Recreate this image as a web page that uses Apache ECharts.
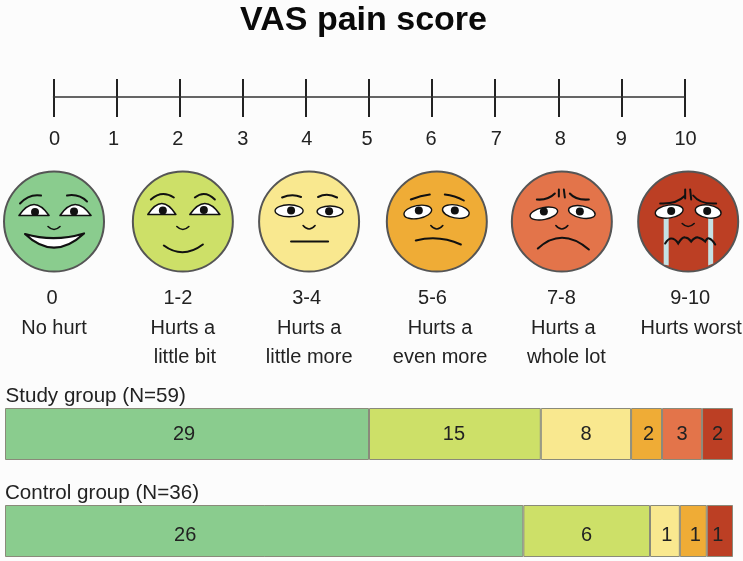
<!DOCTYPE html>
<html>
<head>
<meta charset="utf-8">
<style>html,body{margin:0;padding:0;background:#fcfcfc}#c{width:743px;height:561px}</style>
<script src="https://cdn.jsdelivr.net/npm/echarts@6/dist/echarts.min.js"></script>
</head>
<body>
<div id="c"></div>
<script>
const chartTitle = 'VAS pain score';
const rulerTicks = [0,1,2,3,4,5,6,7,8,9,10];
const painBands = ['0','1-2','3-4','5-6','7-8','9-10'];
const painWords = [['No hurt'],['Hurts a','little bit'],['Hurts a','little more'],['Hurts a','even more'],['Hurts a','whole lot'],['Hurts worst']];
const groupNames = ['Study group (N=59)','Control group (N=36)'];
// Printed patient counts, shown as the bar labels.
const studyCounts = [29,15,8,2,3,2];
const controlCounts = [26,6,1,1,0,1];
// The reference's segments are not drawn to scale with the counts,
// so lengths are read separately, as percent of the whole bar.
const studyLengths = [50.0,23.6,12.4,4.25,5.5,4.25];
const controlLengths = [71.2,17.4,4.1,3.7,0,3.6];
const bandColors = ['#8ACC8E','#CDE068','#F9E88F','#EFAC36','#E3744A','#BC3F24'];

// Small hand-placement nudges of the original artwork (style only, px).
const rulerLabelNudge = [1,-3,-2,0,1,-2,-1,1,2,0,1];
const faceNudge = [0,2,1.4,2.3,0.5,0];
const painLabelNudge = [[-2,0],[-3,2,4],[-1,1.5,1.5],[-2,5.5,5.5],[0,2,5],[2,3]];
const studyLabelNudge = [-3,-1,0,2,0,0];
const controlLabelNudge = [-79,0,2,2,0,-2];

// Face drawings, in pixels relative to each face centre.
const eyeEllipse = (cx,cy,rx,ry,rot)=>({cx,cy,rx,ry,rot});
const faceArt = [
 {brows:'M-34,-18Q-25,-28 -13,-26M13,-26Q25,-28 33,-20',
  lids:'M-35,-6L-5,-6Q-20,-28 -35,-6ZM6,-6L37,-6Q21,-28 6,-6Z',
  pupils:[[-19,-9.5],[20,-10]], nose:'M-6,5Q0,11 6,5',
  mouth:'M-29,12.5Q0,21 30,12Q0,40 -29,12.5Z', mouthFill:'#fff'},
 {brows:'M-32,-22Q-21,-32 -9,-24M12,-24Q22,-32 32,-22',
  lids:'M-35,-7L-7,-7Q-21,-29 -35,-7ZM7,-7L37,-7Q22,-29 7,-7Z',
  pupils:[[-20,-11],[21,-11.5]], nose:'M-6,5Q0,11 6,5',
  mouth:'M-19,24Q0,38 20,23'},
 {brows:'M-27,-24Q-17,-28 -8,-24.5M9,-24.5Q18,-29 28,-24',
  eyes:[eyeEllipse(-20,-10.7,14,6,0),eyeEllipse(21,-10,13,5.5,0)],
  pupils:[[-18,-11],[20,-10.3]], nose:'M-6,4Q0,11 6,4',
  mouth:'M-18,20L19,20'},
 {brows:'M-26,-22Q-16,-26 -7,-27M8,-27Q18,-26 27,-21',
  eyes:[eyeEllipse(-19,-9.5,14,6.5,0.18),eyeEllipse(19,-10,13.5,6.5,-0.18)],
  pupils:[[-18,-11],[18,-11]], nose:'M-6,4Q0,11 6,4',
  mouth:'M-21,19Q2,13 24,23'},
 {brows:'M-25,-22Q-14,-21 -7,-28M8,-28Q14,-21 27,-22M-3,-32L-3,-25M2,-32L3,-24',
  eyes:[eyeEllipse(-18,-8,14,6,0.2),eyeEllipse(20,-9.5,13.5,6,-0.2)],
  pupils:[[-18,-10],[18,-10]], nose:'M-6,4Q0,11 6,4',
  mouth:'M-24,27Q0,5 27,28'},
 {tears:'M-24.5,-5L-19.5,-5L-19.5,44L-24.5,43ZM20,-5L25,-5L25,42L20,44Z',
  brows:'M-28,-18Q-12,-17 -3,-26M5,-26Q12,-17 28,-18M-3,-32L-3,-23M2,-32L3,-22',
  eyes:[eyeEllipse(-19,-10,14,6.5,0.15),eyeEllipse(20,-10,13,6.5,-0.15)],
  pupils:[[-17,-10.5],[19,-10.5]], nose:'M-6,2Q0,8 6,2',
  mouth:'M-23,22Q-20,17 -17,17Q-13,17 -10,22Q-6,15 -3,16Q0,16 3,20Q7,15 10,16Q14,17 17,20Q19,16 21,17Q24,18 27,23'}
];
const ink = '#111';
function faceChildren(i){
  const a = faceArt[i], kids = [];
  const line = (d,w)=>({type:'path',shape:{pathData:d},style:{fill:'none',stroke:ink,lineWidth:w,lineCap:'round'}});
  kids.push({type:'circle',shape:{cx:0,cy:0,r:50},style:{fill:bandColors[i],stroke:'#555',lineWidth:2}});
  if(a.tears) kids.push({type:'path',shape:{pathData:a.tears},style:{fill:'#C5E2E4',stroke:null}});
  kids.push(line(a.brows,2));
  if(a.lids) kids.push({type:'path',shape:{pathData:a.lids},style:{fill:'#fff',stroke:ink,lineWidth:1.6,lineJoin:'round'}});
  (a.eyes||[]).forEach(e=>kids.push({type:'ellipse',x:e.cx,y:e.cy,rotation:e.rot,shape:{cx:0,cy:0,rx:e.rx,ry:e.ry},style:{fill:'#fff',stroke:ink,lineWidth:1.4}}));
  a.pupils.forEach(p=>kids.push({type:'circle',shape:{cx:p[0],cy:p[1],r:4},style:{fill:ink}}));
  kids.push(line(a.nose,1.6));
  if(a.mouthFill) kids.push({type:'path',shape:{pathData:a.mouth},style:{fill:a.mouthFill,stroke:ink,lineWidth:2.2,lineJoin:'round'}});
  else kids.push(line(a.mouth,2.1));
  return kids;
}

const textFont = '"Liberation Sans", Arial, sans-serif';
const textCol = '#222';
const labelSize = 20;

// Rich-text style that shifts a piece of text sideways by n px.
const rich = {};
function nudged(text, n){
  const key = 'n' + String(Math.round(n*2)).replace('-','m');
  rich[key] = {fontFamily:textFont,fontSize:labelSize,color:textCol,lineHeight:29.5,
    padding:[0,n<0?-2*n:0,0,n>0?2*n:0]};
  return '{'+key+'|'+text+'}';
}
const rulerText = rulerTicks.map((t,i)=>nudged(String(t),rulerLabelNudge[i]));
const painText = painBands.map((b,i)=>[b].concat(painWords[i]).map((s,j)=>nudged(s,painLabelNudge[i][j])).join('\n'));

const chart = echarts.init(document.getElementById('c'), null, {renderer:'canvas'});
chart.setOption({
  backgroundColor:'#fcfcfc',
  animation:false,
  title:[
    {text:chartTitle,left:358.5,top:-1,textAlign:'center',textStyle:{fontFamily:textFont,fontWeight:'bold',fontSize:34,color:'#0a0a0a'}},
    {text:groupNames[0],left:5.5,top:386,padding:0,textStyle:{fontFamily:textFont,fontWeight:'normal',fontSize:20.6,color:textCol}},
    {text:groupNames[1],left:5,top:483,padding:0,textStyle:{fontFamily:textFont,fontWeight:'normal',fontSize:20.6,color:textCol}}
  ],
  grid:[
    {left:53.5,width:631,top:79,height:38,outerBoundsMode:'none'},
    {left:-9.4,width:761,top:171,height:101,outerBoundsMode:'none'},
    {left:5,width:728,top:385.5,height:194,outerBoundsMode:'none'}
  ],
  xAxis:[
    {gridIndex:0,type:'value',min:0,max:10,interval:1,
     axisLine:{onZero:true,lineStyle:{color:'#333',width:1.5}},axisTick:{show:false},
     splitLine:{show:true,showMinLine:true,showMaxLine:true,lineStyle:{color:'#222',width:2}},
     axisLabel:{margin:8,rich,showMinLabel:true,showMaxLabel:true,
       formatter:v=>rulerText[v]}},
    {gridIndex:1,type:'category',data:painBands,
     axisLine:{show:false},axisTick:{show:false},
     axisLabel:{interval:0,margin:12,rich,formatter:(v,i)=>painText[i]}},
    {gridIndex:2,type:'value',min:0,max:100,show:false}
  ],
  yAxis:[
    {gridIndex:0,type:'value',min:-1.05,max:0.95,show:false},
    {gridIndex:1,type:'value',min:-1,max:1,show:false},
    {gridIndex:2,type:'category',inverse:true,data:['Study group','Control group'],show:false}
  ],
  series:[
    {type:'custom',xAxisIndex:1,yAxisIndex:1,silent:true,clip:false,
     data:painBands.map((b,i)=>[i,0]),
     renderItem:(params,api)=>{
       const i = api.value(0), p = api.coord([i,0]);
       return {type:'group',x:p[0]+faceNudge[i],y:p[1],children:faceChildren(i)};
     }},
    {type:'line',xAxisIndex:0,yAxisIndex:0,data:[],silent:true}
  ].concat(painBands.map((b,i)=>({
    name:b,type:'bar',stack:'vas',xAxisIndex:2,yAxisIndex:2,barWidth:52,
    itemStyle:{color:bandColors[i],borderColor:'#8a8a7a',borderWidth:1},
    label:{show:true,position:'inside',fontFamily:textFont,fontSize:labelSize,color:textCol},
    data:[
      {value:studyLengths[i],label:{formatter:String(studyCounts[i]),offset:[studyLabelNudge[i],0]}},
      controlLengths[i]?{value:controlLengths[i],label:{formatter:String(controlCounts[i]),offset:[controlLabelNudge[i],4]}}:null
    ]
  })))
});
</script>
</body>
</html>
